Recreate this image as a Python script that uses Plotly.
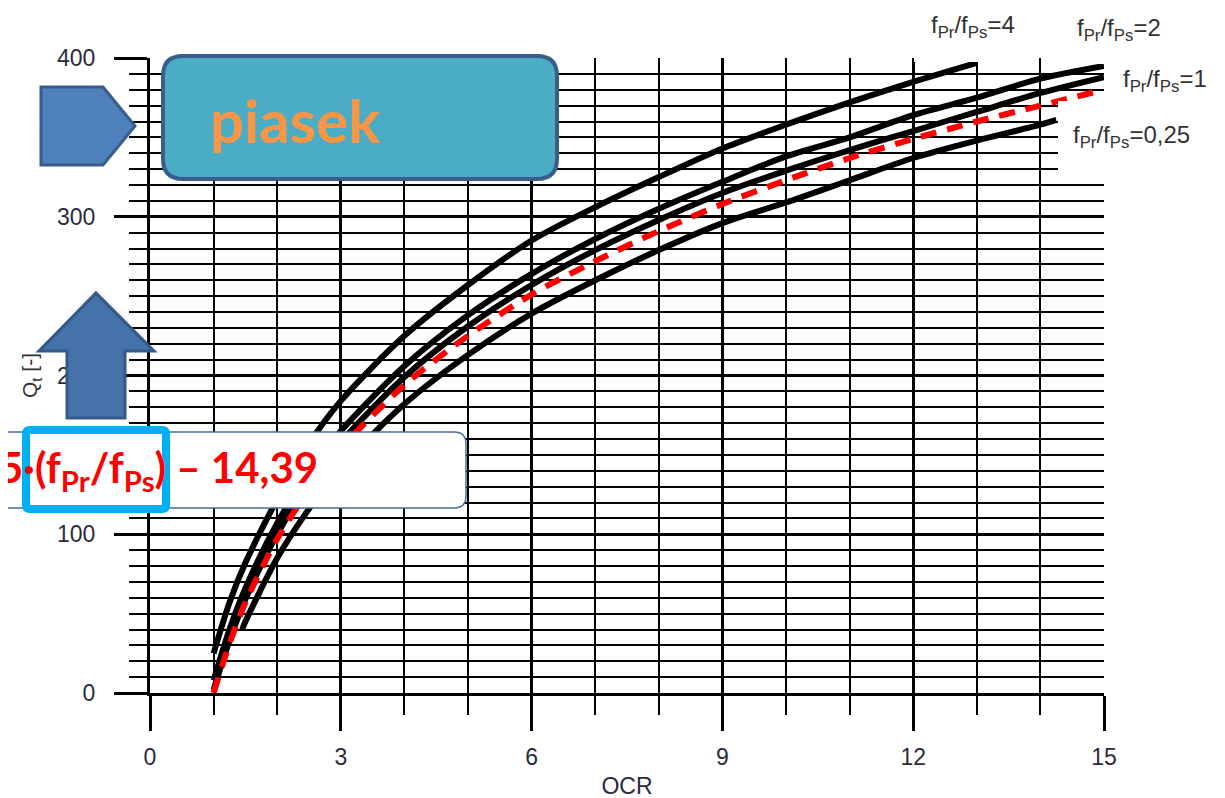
import plotly.graph_objects as go

# ---------------- data ----------------
ocr = [1, 1.25, 1.5, 2, 2.5, 3, 4, 5, 6, 7, 8, 9, 10, 11, 12, 13, 14, 15]
q_r4 = [25, 57, 82, 122, 157, 184, 225, 257, 285, 306, 325, 343, 358, 372, 385, 397]          # OCR 1..13
q_r2 = [8, 40, 66, 107, 139, 165, 206, 238, 264, 286, 305, 322, 338, 350, 364, 375, 387, 395]
q_r1 = [2, 33, 59, 100, 132, 158, 199, 231, 257, 279, 298, 315, 329, 342, 354, 366, 378, 388]
q_fit = [0, 31, 57, 97, 128, 154, 194, 225, 251, 272, 291, 308, 323, 337, 349, 360, 370, 380]
ocr_025 = [1.45, 1.5, 2, 2.5, 3, 4, 5, 6, 7, 8, 9, 10, 11, 12, 13, 14, 14.25]
q_r025 = [40, 45, 85, 116, 142, 182, 213, 239, 260, 279, 296, 309, 323, 337, 348, 358, 361]

x_ticks = [0, 3, 6, 9, 12, 15]
y_ticks = [0, 100, 200, 300, 400]
curve_labels = ["f<sub>Pr</sub>/f<sub>Ps</sub>=4", "f<sub>Pr</sub>/f<sub>Ps</sub>=2",
                "f<sub>Pr</sub>/f<sub>Ps</sub>=1", "f<sub>Pr</sub>/f<sub>Ps</sub>=0,25"]

# ---------------- geometry helpers (screen pixel -> paper) ----------------
W, H = 1225, 798
OFF = 8                      # page body margin
L, R, T, B = 150, 1104, 58, 693


def px(x):
    return (x - L) / (R - L)


def py(y):
    return (B - y) / (B - T)


def poly(points):
    return "M " + " L ".join(f"{px(x):.5f},{py(y):.5f}" for x, y in points) + " Z"


def rrect(x0, y0, x1, y1, r):
    def p(x, y):
        return f"{px(x):.5f},{py(y):.5f}"
    return (f"M {p(x0 + r, y0)} L {p(x1 - r, y0)} Q {p(x1, y0)} {p(x1, y0 + r)} "
            f"L {p(x1, y1 - r)} Q {p(x1, y1)} {p(x1 - r, y1)} "
            f"L {p(x0 + r, y1)} Q {p(x0, y1)} {p(x0, y1 - r)} "
            f"L {p(x0, y0 + r)} Q {p(x0, y0)} {p(x0 + r, y0)} Z")


fig = go.Figure()

black_line = dict(color="black", width=6, shape="spline", smoothing=0.8)
fig.add_trace(go.Scatter(x=ocr[:len(q_r4)], y=q_r4, mode="lines", line=black_line, name="4"))
fig.add_trace(go.Scatter(x=ocr, y=q_r2, mode="lines", line=black_line, name="2"))
fig.add_trace(go.Scatter(x=ocr, y=q_r1, mode="lines", line=black_line, name="1"))
fig.add_trace(go.Scatter(x=ocr_025, y=q_r025, mode="lines", line=black_line, name="0,25"))
fig.add_trace(go.Scatter(x=ocr, y=q_fit, mode="lines",
                         line=dict(color="#ff0000", width=6, dash="16px,11px",
                                   shape="spline", smoothing=0.8), name="fit"))

tick_font = dict(family="Liberation Sans, Arial, sans-serif", size=23, color="#2b2b3b")

fig.update_xaxes(
    range=[0, 15], tickvals=x_ticks, ticks="outside", ticklen=35, tickwidth=3, tickcolor="black",
    showgrid=True, gridcolor="black", gridwidth=3, zeroline=False,
    showline=True, linecolor="black", linewidth=3,
    minor=dict(dtick=1, tick0=0, ticks="outside", ticklen=19, tickwidth=2, tickcolor="black",
               showgrid=True, gridcolor="black", gridwidth=2),
    tickfont=tick_font, ticklabelstandoff=6,
    title=dict(text="OCR", font=tick_font, standoff=10),
)
fig.update_yaxes(
    range=[0, 400], tickvals=y_ticks, ticks="outside", ticklen=33, tickwidth=3, tickcolor="black",
    showgrid=True, gridcolor="black", gridwidth=3, zeroline=False,
    showline=True, linecolor="black", linewidth=3,
    minor=dict(dtick=10, tick0=0, ticks="outside", ticklen=18, tickwidth=2, tickcolor="black",
               showgrid=True, gridcolor="black", gridwidth=2),
    tickfont=tick_font, ticklabelstandoff=14,
    title=dict(text="Q<sub>t</sub> [-]", font=dict(family="Liberation Sans, Arial, sans-serif",
                                                    size=21, color="#333"), standoff=14),
)

shapes = []
# white masks where the original grid is interrupted
for (x0, y0, x1, y1) in [(914, 53, 1036, 62), (1059, 53, 1112, 64), (1058, 101, 1112, 171)]:
    shapes.append(dict(type="rect", xref="paper", yref="paper", x0=px(x0), x1=px(x1),
                       y0=py(y1), y1=py(y0), fillcolor="white", line=dict(width=0), layer="above"))
# pentagon arrow pointing right
shapes.append(dict(type="path", xref="paper", yref="paper",
                   path=poly([(41, 87), (103, 87), (135, 126), (103, 165), (41, 165)]),
                   fillcolor="#4f81bd", line=dict(color="#385d8a", width=3), layer="above"))
# rounded "piasek" box
shapes.append(dict(type="path", xref="paper", yref="paper", path=rrect(163, 56, 557, 179, 20),
                   fillcolor="#4bacc6", line=dict(color="#3a5e8c", width=4), layer="above"))
# up arrow
shapes.append(dict(type="path", xref="paper", yref="paper",
                   path=poly([(96, 293), (154, 351), (125, 351), (125, 418), (67, 418), (67, 351), (39, 351)]),
                   fillcolor="#4672aa", line=dict(color="#33588a", width=3), layer="above"))
# white formula box
shapes.append(dict(type="path", xref="paper", yref="paper", path=rrect(-20, 432, 466, 508, 12),
                   fillcolor="white", line=dict(color="#4a6b9c", width=1.5), layer="above"))
# cyan highlight box
shapes.append(dict(type="path", xref="paper", yref="paper", path=rrect(26, 430, 166, 509, 4),
                   fillcolor="white", line=dict(color="#00b0f0", width=8), layer="above"))

annotations = [
    dict(text="piasek", x=px(208), y=py(120), xref="paper", yref="paper", xanchor="left",
         yanchor="middle", showarrow=False,
         font=dict(family="Lato, Open Sans, sans-serif", size=60, color="#f79646", weight="bold")),
    dict(text="5·(f<sub>Pr</sub>/f<sub>Ps</sub>) – 14,39", x=px(320), y=py(470), xref="paper",
         yref="paper", xanchor="right", yanchor="middle", showarrow=False,
         font=dict(family="Lato, Open Sans, sans-serif", size=42, color="#ff0000", weight="bold")),
]
label_font = dict(family="Liberation Sans, Arial, sans-serif", size=24, color="#333")
for txt, (lx, ly, anch) in zip(curve_labels, [(973, 26, "center"), (1119, 30, "center"),
                                             (1121, 80, "left"), (1071, 136, "left")]):
    annotations.append(dict(text=txt, x=px(lx), y=py(ly), xref="paper", yref="paper",
                            xanchor=anch, yanchor="middle", showarrow=False, font=label_font))

fig.update_layout(
    width=W, height=H, showlegend=False,
    margin=dict(l=L - OFF, r=W - R + OFF, t=T - OFF, b=H - B + OFF, autoexpand=False),
    plot_bgcolor="white", paper_bgcolor="white",
    shapes=shapes, annotations=annotations,
)

fig.write_html("out.html")
